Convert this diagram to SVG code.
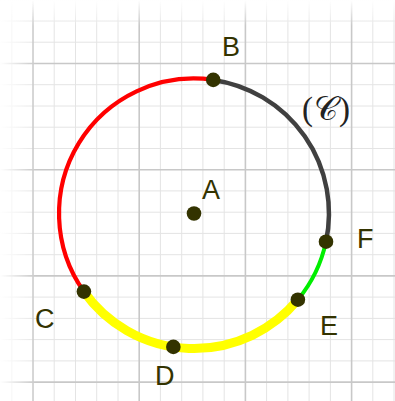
<svg xmlns="http://www.w3.org/2000/svg" width="395" height="401" viewBox="0 0 395 401">
<defs>
<linearGradient id="fadeTop" x1="0" y1="0" x2="0" y2="1"><stop offset="0" stop-color="#fff" stop-opacity="1"/><stop offset="1" stop-color="#fff" stop-opacity="0"/></linearGradient>
<linearGradient id="fadeLeft" x1="0" y1="0" x2="1" y2="0"><stop offset="0" stop-color="#fff" stop-opacity="1"/><stop offset="1" stop-color="#fff" stop-opacity="0"/></linearGradient>
</defs>
<style>
.minor{stroke:#e4e4e4;stroke-width:1}
.major{stroke:#c8c8c8;stroke-width:1.6}
.arc{fill:none;stroke-linecap:butt}
.pt{fill:#333300}
.lbl{font-family:"Liberation Sans",Arial,sans-serif;font-size:27px;fill:#333300}
</style>
<rect width="395" height="401" fill="#fff"/>
<g id="grid">
<g class="minor">
<line x1="11.8" y1="0" x2="11.8" y2="401"/><line x1="54.2" y1="0" x2="54.2" y2="401"/><line x1="75.5" y1="0" x2="75.5" y2="401"/><line x1="96.7" y1="0" x2="96.7" y2="401"/><line x1="118" y1="0" x2="118" y2="401"/>
<line x1="160.4" y1="0" x2="160.4" y2="401"/><line x1="181.7" y1="0" x2="181.7" y2="401"/><line x1="202.9" y1="0" x2="202.9" y2="401"/><line x1="224.2" y1="0" x2="224.2" y2="401"/>
<line x1="266.6" y1="0" x2="266.6" y2="401"/><line x1="287.9" y1="0" x2="287.9" y2="401"/><line x1="309.1" y1="0" x2="309.1" y2="401"/><line x1="330.4" y1="0" x2="330.4" y2="401"/>
<line x1="372.8" y1="0" x2="372.8" y2="401"/><line x1="394" y1="0" x2="394" y2="401"/>
<line x1="0" y1="0.3" x2="395" y2="0.3"/><line x1="0" y1="21" x2="395" y2="21"/><line x1="0" y1="42.2" x2="395" y2="42.2"/>
<line x1="0" y1="84.7" x2="395" y2="84.7"/><line x1="0" y1="106" x2="395" y2="106"/><line x1="0" y1="127.2" x2="395" y2="127.2"/><line x1="0" y1="148.5" x2="395" y2="148.5"/>
<line x1="0" y1="190.9" x2="395" y2="190.9"/><line x1="0" y1="212.2" x2="395" y2="212.2"/><line x1="0" y1="233.4" x2="395" y2="233.4"/><line x1="0" y1="254.7" x2="395" y2="254.7"/>
<line x1="0" y1="297.1" x2="395" y2="297.1"/><line x1="0" y1="318.4" x2="395" y2="318.4"/><line x1="0" y1="339.6" x2="395" y2="339.6"/><line x1="0" y1="360.9" x2="395" y2="360.9"/>
</g>
<g class="major">
<line x1="33" y1="0" x2="33" y2="401"/><line x1="139.2" y1="0" x2="139.2" y2="401"/><line x1="245.4" y1="0" x2="245.4" y2="401"/><line x1="351.6" y1="0" x2="351.6" y2="401"/>
<line x1="0" y1="63.5" x2="395" y2="63.5"/><line x1="0" y1="169.7" x2="395" y2="169.7"/><line x1="0" y1="275.9" x2="395" y2="275.9"/><line x1="0" y1="382.1" x2="395" y2="382.1"/>
</g>
<rect x="0" y="0" width="395" height="26" fill="url(#fadeTop)"/>
<rect x="0" y="0" width="36" height="401" fill="url(#fadeLeft)"/>
</g>
<g id="connectors">
<path id="arc-CB" class="arc" d="M83.9,291.6 A135,135 0 0 1 213.25,79.9" stroke="#ff0000" stroke-width="4.2"/>
<path id="arc-BF" class="arc" d="M213.25,79.9 A135,135 0 0 1 326,241.7" stroke="#404040" stroke-width="4.5"/>
<path id="arc-FE" class="arc" d="M326,241.7 A135,135 0 0 1 297.9,299.7" stroke="#00ee00" stroke-width="4"/>
<path id="arc-EC" class="arc" d="M297.9,299.7 A135,135 0 0 1 83.9,291.6" stroke="#ffff00" stroke-width="9"/>
</g>
<g id="curve-label"><text x="302" y="120" style="font-family:'Liberation Serif','DejaVu Serif',serif;fill:#222;font-size:33px;letter-spacing:1px">(𝒞)</text></g>
<g id="A"><circle class="pt" cx="194" cy="213.5" r="7.3"/><text class="lbl" x="202" y="199">A</text></g>
<g id="B"><circle class="pt" cx="213.25" cy="79.9" r="7.3"/><text class="lbl" x="222" y="56">B</text></g>
<g id="C"><circle class="pt" cx="83.9" cy="291.6" r="7.3"/><text class="lbl" x="35" y="328">C</text></g>
<g id="D"><circle class="pt" cx="173.35" cy="346.9" r="7.3"/><text class="lbl" x="155" y="385">D</text></g>
<g id="E"><circle class="pt" cx="297.9" cy="299.7" r="7.3"/><text class="lbl" x="320" y="335">E</text></g>
<g id="F"><circle class="pt" cx="326" cy="241.7" r="7.3"/><text class="lbl" x="357" y="248">F</text></g>
</svg>
